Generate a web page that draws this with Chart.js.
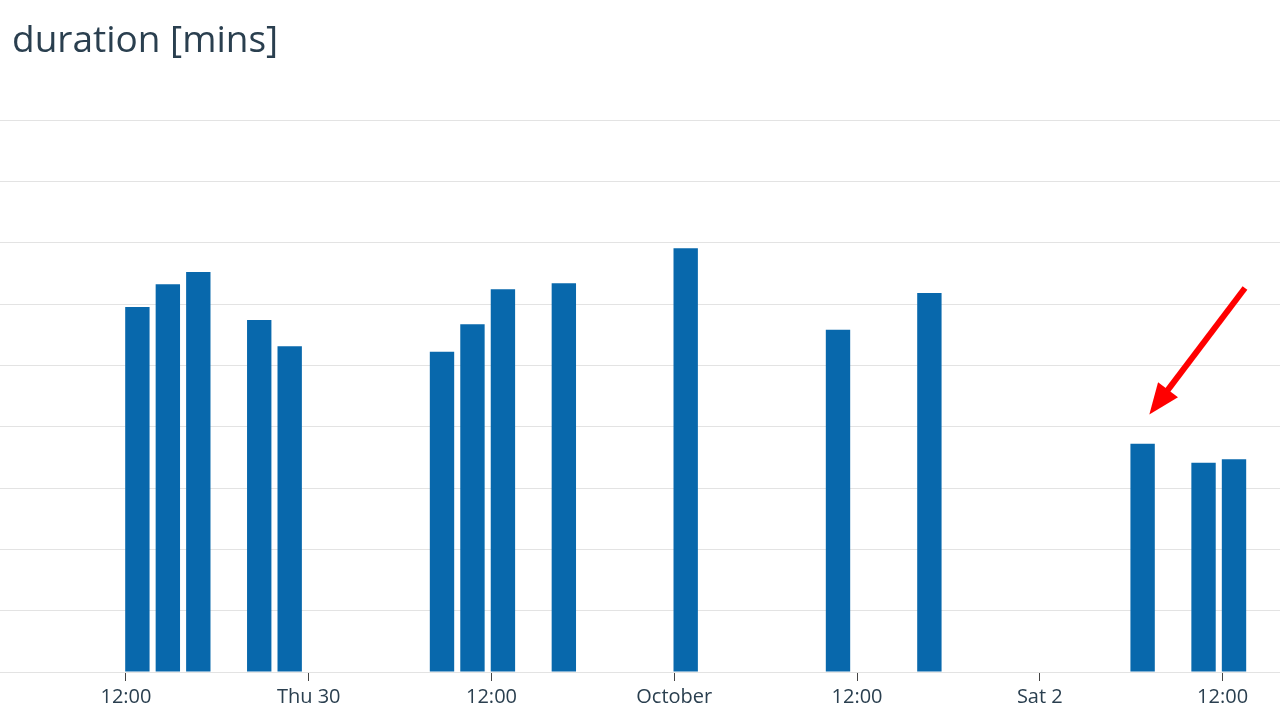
<!DOCTYPE html>
<html>
<head>
<meta charset="utf-8">
<script src="https://cdn.jsdelivr.net/npm/chart.js@4.4.0/dist/chart.umd.min.js"></script>
<style>
  body { margin: 0; background: #fff; }
  #wrap { position: relative; width: 1280px; height: 720px; }
  #title {
    position: absolute; left: 12px; top: 12px;
    font-family: "Open Sans", sans-serif; font-size: 37px; color: #2a3f4f;
  }
</style>
</head>
<body>
<div id="wrap">
  <canvas id="durchart" width="1280" height="720"></canvas>
  <div id="title">duration [mins]</div>
</div>
<script>
// hours since Wed 29 00:00
const runHours = [12.75, 14.75, 16.75, 20.75, 22.75, 32.75, 34.75, 36.75, 40.75, 48.75, 58.75, 64.75, 78.75, 82.75, 84.75];
const durations = [59.5, 63.2, 65.2, 57.4, 53.1, 52.2, 56.7, 62.4, 63.4, 69.1, 55.8, 61.8, 37.2, 34.1, 34.7];

const tickHours = [12, 24, 36, 48, 60, 72, 84];
const tickLabels = ["12:00", "Thu 30", "12:00", "October", "12:00", "Sat 2", "12:00"];

// red arrow pointing at the drop (data coords)
const arrowFrom = [85.47, 62.6];
const arrowTo = [79.19, 42.0];

const textColor = "#2a3f4f";

const arrowPlugin = {
  id: "arrow",
  afterDatasetsDraw(chart) {
    const { ctx, scales } = chart;
    const x1 = scales.x.getPixelForValue(arrowFrom[0]);
    const y1 = scales.y.getPixelForValue(arrowFrom[1]);
    const x2 = scales.x.getPixelForValue(arrowTo[0]);
    const y2 = scales.y.getPixelForValue(arrowTo[1]);
    const ang = Math.atan2(y2 - y1, x2 - x1);
    const headLen = 31, headHalf = 12.5;
    const bx = x2 - headLen * Math.cos(ang);
    const by = y2 - headLen * Math.sin(ang);
    ctx.save();
    ctx.strokeStyle = "#ff0000";
    ctx.fillStyle = "#ff0000";
    ctx.lineWidth = 6;
    ctx.beginPath();
    ctx.moveTo(x1, y1);
    ctx.lineTo(bx + 4 * Math.cos(ang), by + 4 * Math.sin(ang));
    ctx.stroke();
    ctx.beginPath();
    ctx.moveTo(x2, y2);
    ctx.lineTo(bx + headHalf * Math.sin(ang), by - headHalf * Math.cos(ang));
    ctx.lineTo(bx - headHalf * Math.sin(ang), by + headHalf * Math.cos(ang));
    ctx.closePath();
    ctx.fill();
    ctx.restore();
  },
};

new Chart(document.getElementById("durchart"), {
  type: "bar",
  data: {
    datasets: [
      {
        label: "duration",
        data: runHours.map((h, i) => ({ x: h, y: durations[i] })),
        backgroundColor: "#0868ac",
        borderWidth: 0,
        categoryPercentage: 0.8,
        barPercentage: 1,
      },
    ],
  },
  options: {
    responsive: false,
    animation: false,
    layout: { padding: { top: 120, left: 0, right: 0, bottom: 0 } },
    plugins: {
      legend: { display: false },
      tooltip: { enabled: false },
    },
    scales: {
      x: {
        type: "linear",
        offset: false,
        min: 3.73,
        max: 87.77,
        afterBuildTicks: (axis) => {
          axis.ticks = tickHours.map((v) => ({ value: v }));
        },
        afterFit: (axis) => {
          axis.height = 48;
        },
        ticks: {
          autoSkip: false,
          maxRotation: 0,
          padding: 4,
          color: textColor,
          font: { family: "Open Sans", size: 20 },
          callback: (v) => tickLabels[tickHours.indexOf(v)],
        },
        grid: {
          offset: false,
          drawOnChartArea: false,
          drawTicks: true,
          tickLength: 9,
          color: "#444",
        },
        border: { display: false },
      },
      y: {
        min: 0,
        max: 90,
        ticks: { display: false, stepSize: 10 },
        afterFit: (axis) => {
          axis.width = 0;
        },
        grid: { color: "#e3e3e3", drawTicks: false },
        border: { display: false },
      },
    },
  },
  plugins: [arrowPlugin],
});
</script>
</body>
</html>
